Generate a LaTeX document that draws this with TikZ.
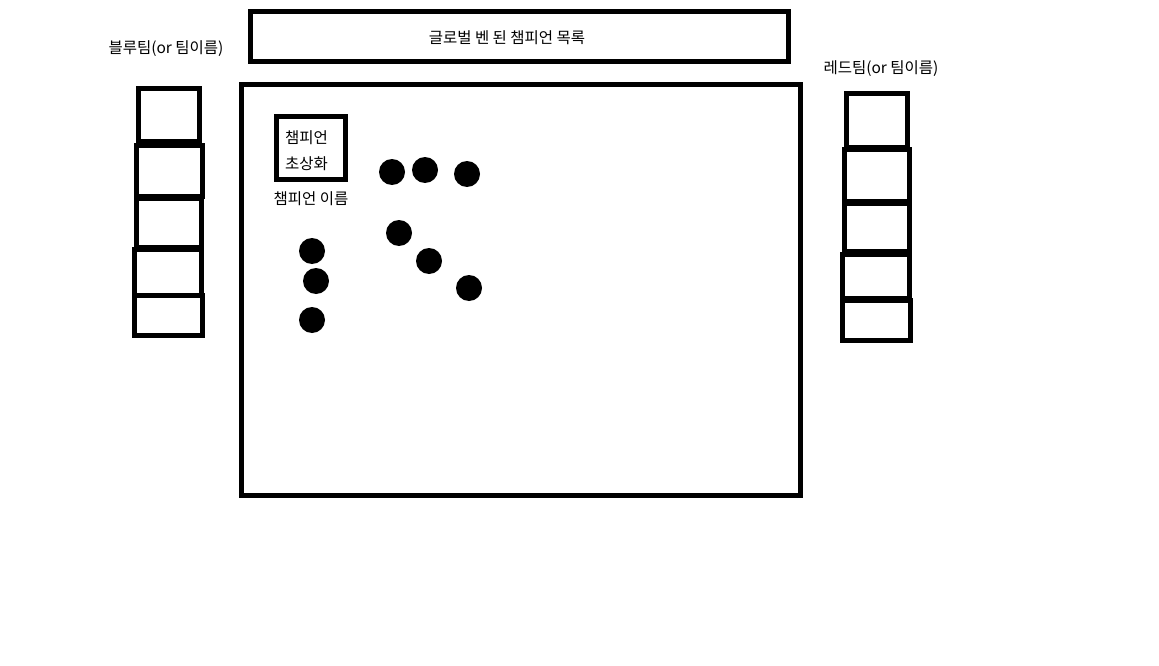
\documentclass[tikz,border=0pt]{standalone}
\usepackage{fontspec}
\newfontfamily\kr{Noto Sans CJK KR}
\begin{document}
\begin{tikzpicture}[x=1pt,y=-1pt,
  box/.style={draw=black,line width=5pt,fill=none},
  dot/.style={circle,fill=black,minimum size=26pt,inner sep=0pt},
  lbl/.style={font=\kr\fontsize{15.5}{18}\selectfont,inner sep=0pt}]
\useasboundingbox[fill=white] (0,0) rectangle (1159,666);
% title box
\draw[box] (250.5,11.5) rectangle (788.5,61.5);
\node[lbl] (title) at (507,38) {글로벌 벤 된 챔피언 목록};
% main box
\draw[box] (241.5,84.5) rectangle (800.5,495.5);
% left team
\node[lbl] (blue) at (166,49) {블루팀(or 팀이름)};
\draw[box] (138.5,88.5) rectangle (199.5,142);
\draw[box] (136.5,145.5) rectangle (202.5,196.5);
\draw[box] (136.5,198.5) rectangle (201.5,247.5);
\draw[box] (134.5,249) rectangle (201.5,295);
\draw[box] (134.5,295.5) rectangle (202.5,335.5);
% right team
\node[lbl] (red) at (881,69) {레드팀(or 팀이름)};
\draw[box] (846.5,93.5) rectangle (907.5,147.5);
\draw[box] (844.5,150) rectangle (909.5,201);
\draw[box] (844.5,203) rectangle (909.5,251);
\draw[box] (842.5,254) rectangle (909.5,298);
\draw[box] (842.5,300) rectangle (910,340);
% champion portrait
\draw[box] (276.5,116.5) rectangle (345.5,179.5);
\node[lbl,anchor=west] (c1) at (285,138) {챔피언};
\node[lbl,anchor=west] (c2) at (285,164) {초상화};
\node[lbl] (cname) at (311,199) {챔피언 이름};
% dots
\node[dot] (d1) at (392,172) {};
\node[dot] (d2) at (425,170) {};
\node[dot] (d3) at (467,174) {};
\node[dot] (d4) at (399,233) {};
\node[dot] (d5) at (429,261) {};
\node[dot] (d6) at (469,288) {};
\node[dot] (d7) at (312,251) {};
\node[dot] (d8) at (316,281) {};
\node[dot] (d9) at (312,320) {};
\end{tikzpicture}
\end{document}
